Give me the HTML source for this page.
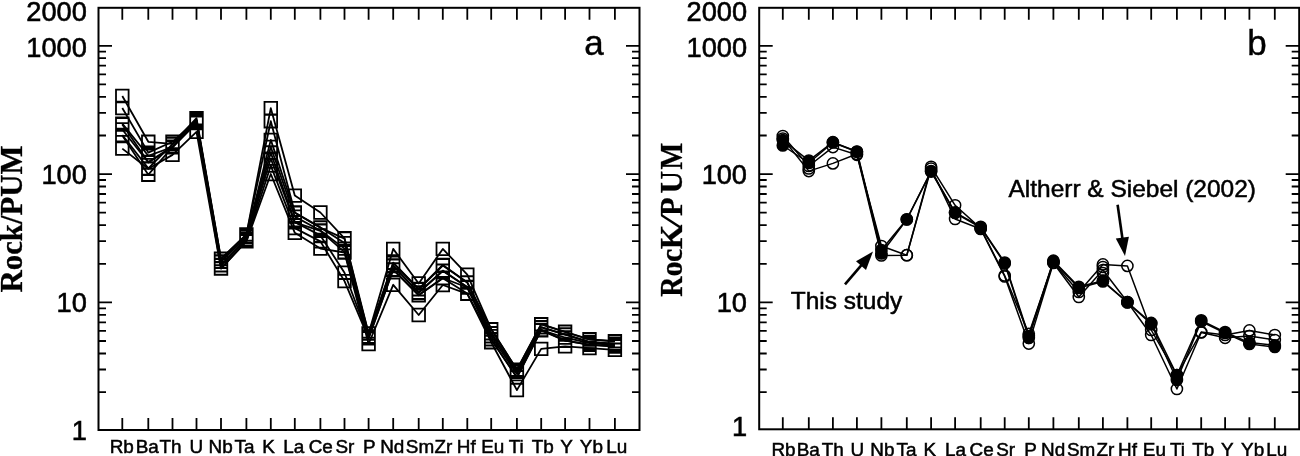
<!DOCTYPE html>
<html><head><meta charset="utf-8"><title>Rock/PUM spider diagrams</title>
<style>
html,body{margin:0;padding:0;background:#fff;}
body{width:1300px;height:456px;overflow:hidden;}
svg{display:block;}
text{fill:#000;}
.yl{font-family:"Liberation Sans",Arial,sans-serif;font-size:27.2px;stroke:#000;stroke-width:0.6px;}
.xl{font-family:"Liberation Sans",Arial,sans-serif;font-size:18.9px;stroke:#000;stroke-width:0.5px;}
.pl{font-family:"Liberation Sans",Arial,sans-serif;font-size:35px;stroke:#000;stroke-width:0.4px;}
.an{font-family:"Liberation Sans",Arial,sans-serif;font-size:23.2px;stroke:#000;stroke-width:0.5px;}
.yt{font-family:"Liberation Serif","Times New Roman",serif;font-weight:bold;font-size:30.8px;stroke:#000;stroke-width:0.3px;}
.yt2{font-family:"Liberation Serif","Times New Roman",serif;font-weight:bold;font-size:31.8px;stroke:#000;stroke-width:0.3px;}
</style></head><body>
<svg width="1300" height="456" viewBox="0 0 1300 456">
<rect width="1300" height="456" fill="#fff"/>
<g id="pa">
<rect x="98.5" y="7.8" width="541.0" height="422.2" fill="none" stroke="#000" stroke-width="2"/>
<path d="M122.3 7.8v12M122.3 430v-12M148.3 7.8v12M148.3 430v-12M172.5 7.8v12M172.5 430v-12M196.5 7.8v12M196.5 430v-12M221.0 7.8v12M221.0 430v-12M246.4 7.8v12M246.4 430v-12M270.8 7.8v12M270.8 430v-12M294.8 7.8v12M294.8 430v-12M320.4 7.8v12M320.4 430v-12M344.5 7.8v12M344.5 430v-12M368.6 7.8v12M368.6 430v-12M393.2 7.8v12M393.2 430v-12M418.7 7.8v12M418.7 430v-12M442.8 7.8v12M442.8 430v-12M467.3 7.8v12M467.3 430v-12M491.2 7.8v12M491.2 430v-12M516.9 7.8v12M516.9 430v-12M541.2 7.8v12M541.2 430v-12M565.1 7.8v12M565.1 430v-12M589.5 7.8v12M589.5 430v-12M614.9 7.8v12M614.9 430v-12M98.5 392.1h7.5M639.5 392.1h-7.5M98.5 369.5h7.5M639.5 369.5h-7.5M98.5 353.5h7.5M639.5 353.5h-7.5M98.5 341.0h7.5M639.5 341.0h-7.5M98.5 330.9h7.5M639.5 330.9h-7.5M98.5 322.3h7.5M639.5 322.3h-7.5M98.5 314.8h7.5M639.5 314.8h-7.5M98.5 308.3h7.5M639.5 308.3h-7.5M98.5 302.4h13.5M639.5 302.4h-13.5M98.5 263.8h7.5M639.5 263.8h-7.5M98.5 241.2h7.5M639.5 241.2h-7.5M98.5 225.2h7.5M639.5 225.2h-7.5M98.5 212.7h7.5M639.5 212.7h-7.5M98.5 202.6h7.5M639.5 202.6h-7.5M98.5 194.0h7.5M639.5 194.0h-7.5M98.5 186.5h7.5M639.5 186.5h-7.5M98.5 180.0h7.5M639.5 180.0h-7.5M98.5 174.1h13.5M639.5 174.1h-13.5M98.5 135.5h7.5M639.5 135.5h-7.5M98.5 112.9h7.5M639.5 112.9h-7.5M98.5 96.9h7.5M639.5 96.9h-7.5M98.5 84.4h7.5M639.5 84.4h-7.5M98.5 74.3h7.5M639.5 74.3h-7.5M98.5 65.7h7.5M639.5 65.7h-7.5M98.5 58.2h7.5M639.5 58.2h-7.5M98.5 51.7h7.5M639.5 51.7h-7.5M98.5 45.8h13.5M639.5 45.8h-13.5" stroke="#000" stroke-width="1.8" fill="none"/>
</g>
<g id="pb">
<rect x="759.2" y="7.8" width="540.0" height="421.5" fill="none" stroke="#000" stroke-width="2"/>
<path d="M782.8 7.8v12M782.8 429.3v-12M808.8 7.8v12M808.8 429.3v-12M832.9 7.8v12M832.9 429.3v-12M856.9 7.8v12M856.9 429.3v-12M881.4 7.8v12M881.4 429.3v-12M906.8 7.8v12M906.8 429.3v-12M931.1 7.8v12M931.1 429.3v-12M955.1 7.8v12M955.1 429.3v-12M980.7 7.8v12M980.7 429.3v-12M1004.7 7.8v12M1004.7 429.3v-12M1028.8 7.8v12M1028.8 429.3v-12M1053.4 7.8v12M1053.4 429.3v-12M1078.8 7.8v12M1078.8 429.3v-12M1102.9 7.8v12M1102.9 429.3v-12M1127.4 7.8v12M1127.4 429.3v-12M1151.2 7.8v12M1151.2 429.3v-12M1176.9 7.8v12M1176.9 429.3v-12M1201.2 7.8v12M1201.2 429.3v-12M1225.1 7.8v12M1225.1 429.3v-12M1249.4 7.8v12M1249.4 429.3v-12M1274.8 7.8v12M1274.8 429.3v-12M759.2 392.1h7.5M1299.2 392.1h-7.5M759.2 369.5h7.5M1299.2 369.5h-7.5M759.2 353.5h7.5M1299.2 353.5h-7.5M759.2 341.0h7.5M1299.2 341.0h-7.5M759.2 330.9h7.5M1299.2 330.9h-7.5M759.2 322.3h7.5M1299.2 322.3h-7.5M759.2 314.8h7.5M1299.2 314.8h-7.5M759.2 308.3h7.5M1299.2 308.3h-7.5M759.2 302.4h13.5M1299.2 302.4h-13.5M759.2 263.8h7.5M1299.2 263.8h-7.5M759.2 241.2h7.5M1299.2 241.2h-7.5M759.2 225.2h7.5M1299.2 225.2h-7.5M759.2 212.7h7.5M1299.2 212.7h-7.5M759.2 202.6h7.5M1299.2 202.6h-7.5M759.2 194.0h7.5M1299.2 194.0h-7.5M759.2 186.5h7.5M1299.2 186.5h-7.5M759.2 180.0h7.5M1299.2 180.0h-7.5M759.2 174.1h13.5M1299.2 174.1h-13.5M759.2 135.5h7.5M1299.2 135.5h-7.5M759.2 112.9h7.5M1299.2 112.9h-7.5M759.2 96.9h7.5M1299.2 96.9h-7.5M759.2 84.4h7.5M1299.2 84.4h-7.5M759.2 74.3h7.5M1299.2 74.3h-7.5M759.2 65.7h7.5M1299.2 65.7h-7.5M759.2 58.2h7.5M1299.2 58.2h-7.5M759.2 51.7h7.5M1299.2 51.7h-7.5M759.2 45.8h13.5M1299.2 45.8h-13.5" stroke="#000" stroke-width="1.8" fill="none"/>
</g>
<text x="86.8" y="20.8" text-anchor="end" class="yl">2000</text>
<text x="86.8" y="56.7" text-anchor="end" class="yl">1000</text>
<text x="86.8" y="183.7" text-anchor="end" class="yl">100</text>
<text x="86.8" y="311.9" text-anchor="end" class="yl">10</text>
<text x="86.8" y="440.2" text-anchor="end" class="yl">1</text>
<text x="747" y="20.5" text-anchor="end" class="yl">2000</text>
<text x="747" y="56.7" text-anchor="end" class="yl">1000</text>
<text x="747" y="183.7" text-anchor="end" class="yl">100</text>
<text x="747" y="311.9" text-anchor="end" class="yl">10</text>
<text x="747" y="436" text-anchor="end" class="yl">1</text>
<text x="121.8" y="452.6" text-anchor="middle" class="xl">Rb</text>
<text x="147.2" y="452.6" text-anchor="middle" class="xl">Ba</text>
<text x="170.6" y="452.6" text-anchor="middle" class="xl">Th</text>
<text x="196.3" y="452.6" text-anchor="middle" class="xl">U</text>
<text x="220.6" y="452.6" text-anchor="middle" class="xl">Nb</text>
<text x="244.6" y="452.6" text-anchor="middle" class="xl">Ta</text>
<text x="268.6" y="452.6" text-anchor="middle" class="xl">K</text>
<text x="293.7" y="452.6" text-anchor="middle" class="xl">La</text>
<text x="320.8" y="452.6" text-anchor="middle" class="xl">Ce</text>
<text x="344.9" y="452.6" text-anchor="middle" class="xl">Sr</text>
<text x="369.4" y="452.6" text-anchor="middle" class="xl">P</text>
<text x="392.3" y="452.6" text-anchor="middle" class="xl">Nd</text>
<text x="420.0" y="452.6" text-anchor="middle" class="xl">Sm</text>
<text x="443.4" y="452.6" text-anchor="middle" class="xl">Zr</text>
<text x="466.3" y="452.6" text-anchor="middle" class="xl">Hf</text>
<text x="492.7" y="452.6" text-anchor="middle" class="xl">Eu</text>
<text x="516.2" y="452.6" text-anchor="middle" class="xl">Ti</text>
<text x="542.7" y="452.6" text-anchor="middle" class="xl">Tb</text>
<text x="566.5" y="452.6" text-anchor="middle" class="xl">Y</text>
<text x="591.4" y="452.6" text-anchor="middle" class="xl">Yb</text>
<text x="616.7" y="452.6" text-anchor="middle" class="xl">Lu</text>
<text x="783.5" y="456" text-anchor="middle" class="xl">Rb</text>
<text x="808.2" y="456" text-anchor="middle" class="xl">Ba</text>
<text x="832.8" y="456" text-anchor="middle" class="xl">Th</text>
<text x="857.3" y="456" text-anchor="middle" class="xl">U</text>
<text x="882.4" y="456" text-anchor="middle" class="xl">Nb</text>
<text x="906.5" y="456" text-anchor="middle" class="xl">Ta</text>
<text x="929.7" y="456" text-anchor="middle" class="xl">K</text>
<text x="955.4" y="456" text-anchor="middle" class="xl">La</text>
<text x="981.7" y="456" text-anchor="middle" class="xl">Ce</text>
<text x="1005.6" y="456" text-anchor="middle" class="xl">Sr</text>
<text x="1030.6" y="456" text-anchor="middle" class="xl">P</text>
<text x="1053.1" y="456" text-anchor="middle" class="xl">Nd</text>
<text x="1081.1" y="456" text-anchor="middle" class="xl">Sm</text>
<text x="1105.5" y="456" text-anchor="middle" class="xl">Zr</text>
<text x="1127.5" y="456" text-anchor="middle" class="xl">Hf</text>
<text x="1154.4" y="456" text-anchor="middle" class="xl">Eu</text>
<text x="1177.5" y="456" text-anchor="middle" class="xl">Ti</text>
<text x="1203.2" y="456" text-anchor="middle" class="xl">Tb</text>
<text x="1227.3" y="456" text-anchor="middle" class="xl">Y</text>
<text x="1252.6" y="456" text-anchor="middle" class="xl">Yb</text>
<text x="1276.7" y="456" text-anchor="middle" class="xl">Lu</text>
<text x="594" y="55.3" text-anchor="middle" class="pl">a</text>
<text x="1257" y="55.3" text-anchor="middle" class="pl">b</text>
<text transform="translate(21.8,292.5) rotate(-90)" class="yt">Rock/PUM</text>
<text transform="translate(682.3,296.3) rotate(-90)" class="yt2"><tspan x="-0.48" textLength="20.2" lengthAdjust="spacingAndGlyphs">R</tspan><tspan x="19.84" textLength="15.2" lengthAdjust="spacingAndGlyphs">o</tspan><tspan x="34.28" textLength="13.27" lengthAdjust="spacingAndGlyphs">c</tspan><tspan x="47.0" textLength="24.5" lengthAdjust="spacingAndGlyphs">K</tspan><tspan x="66.4" textLength="16.5" lengthAdjust="spacingAndGlyphs" font-weight="normal" stroke="none">/</tspan><tspan x="80.38" textLength="18.6" lengthAdjust="spacingAndGlyphs">P</tspan><tspan x="102.92" textLength="22.55" lengthAdjust="spacingAndGlyphs">U</tspan><tspan x="126.8" textLength="26.8" lengthAdjust="spacingAndGlyphs">M</tspan></text>
<g fill="none" stroke="#000" stroke-width="1.8">
<polyline points="122.3,96.0 148.3,141.8 172.5,143.9 196.5,118.2 221.0,258.8 246.4,234.4 270.8,108.2 294.8,195.6 320.4,212.5 344.5,238.3 368.6,333.4 393.2,248.9 418.7,283.5 442.8,248.9 467.3,274.7 491.2,329.1 516.9,369.6 541.2,324.2 565.1,331.8 589.5,339.3 614.9,341.1" stroke-linejoin="round"/>
<polyline points="122.3,108.0 148.3,152.6 172.5,141.8 196.5,120.0 221.0,259.0 246.4,234.6 270.8,121.2 294.8,212.5 320.4,227.4 344.5,243.1 368.6,333.6 393.2,262.7 418.7,289.0 442.8,265.0 467.3,282.4 491.2,329.4 516.9,369.8 541.2,324.4 565.1,332.0 589.5,339.5 614.9,341.3" stroke-linejoin="round"/>
<polyline points="122.3,123.6 148.3,155.8 172.5,147.0 196.5,120.3 221.0,261.5 246.4,236.5 270.8,139.9 294.8,212.8 320.4,227.7 344.5,238.6 368.6,336.5 393.2,263.0 418.7,289.3 442.8,265.5 467.3,282.6 491.2,333.2 516.9,371.6 541.2,327.2 565.1,334.4 589.5,341.9 614.9,343.7" stroke-linejoin="round"/>
<polyline points="122.3,124.5 148.3,162.0 172.5,146.6 196.5,122.6 221.0,261.8 246.4,236.8 270.8,147.0 294.8,216.6 320.4,230.5 344.5,248.6 368.6,336.7 393.2,265.5 418.7,292.5 442.8,270.6 467.3,287.2 491.2,333.4 516.9,371.8 541.2,327.4 565.1,334.6 589.5,342.1 614.9,343.9" stroke-linejoin="round"/>
<polyline points="122.3,129.5 148.3,162.5 172.5,147.4 196.5,122.3 221.0,265.0 246.4,239.0 270.8,152.7 294.8,222.1 320.4,235.4 344.5,272.7 368.6,337.0 393.2,266.0 418.7,292.8 442.8,271.0 467.3,287.0 491.2,336.2 516.9,374.0 541.2,330.1 565.1,337.5 589.5,343.2 614.9,345.0" stroke-linejoin="round"/>
<polyline points="122.3,135.0 148.3,168.4 172.5,144.2 196.5,121.0 221.0,265.3 246.4,239.3 270.8,158.6 294.8,222.4 320.4,230.8 344.5,252.2 368.6,338.2 393.2,269.5 418.7,295.0 442.8,278.0 467.3,287.5 491.2,339.2 516.9,377.5 541.2,329.9 565.1,340.5 589.5,344.6 614.9,346.3" stroke-linejoin="round"/>
<polyline points="122.3,135.5 148.3,174.7 172.5,147.2 196.5,123.0 221.0,268.3 246.4,241.2 270.8,165.6 294.8,228.1 320.4,241.4 344.5,281.1 368.6,338.4 393.2,269.7 418.7,295.3 442.8,278.3 467.3,293.5 491.2,339.4 516.9,377.3 541.2,330.3 565.1,340.7 589.5,344.8 614.9,346.5" stroke-linejoin="round"/>
<polyline points="122.3,148.6 148.3,168.8 172.5,154.9 196.5,131.9 221.0,268.6 246.4,241.4 270.8,174.0 294.8,232.8 320.4,248.6 344.5,252.5 368.6,344.0 393.2,284.8 418.7,315.0 442.8,285.0 467.3,293.8 491.2,342.2 516.9,390.1 541.2,348.9 565.1,346.3 589.5,348.1 614.9,349.8" stroke-linejoin="round"/>
<path d="M116.0 89.7h12.6v12.6h-12.6zM142.0 135.5h12.6v12.6h-12.6zM166.2 137.6h12.6v12.6h-12.6zM190.2 111.9h12.6v12.6h-12.6zM214.7 252.5h12.6v12.6h-12.6zM240.1 228.1h12.6v12.6h-12.6zM264.5 101.9h12.6v12.6h-12.6zM288.5 189.3h12.6v12.6h-12.6zM314.1 206.2h12.6v12.6h-12.6zM338.2 232.0h12.6v12.6h-12.6zM362.3 327.1h12.6v12.6h-12.6zM386.9 242.6h12.6v12.6h-12.6zM412.4 277.2h12.6v12.6h-12.6zM436.5 242.6h12.6v12.6h-12.6zM461.0 268.4h12.6v12.6h-12.6zM484.9 322.8h12.6v12.6h-12.6zM510.6 363.3h12.6v12.6h-12.6zM534.9 317.9h12.6v12.6h-12.6zM558.8 325.5h12.6v12.6h-12.6zM583.2 333.0h12.6v12.6h-12.6zM608.6 334.8h12.6v12.6h-12.6zM116.0 101.7h12.6v12.6h-12.6zM142.0 146.3h12.6v12.6h-12.6zM166.2 135.5h12.6v12.6h-12.6zM190.2 113.7h12.6v12.6h-12.6zM214.7 252.7h12.6v12.6h-12.6zM240.1 228.3h12.6v12.6h-12.6zM264.5 114.9h12.6v12.6h-12.6zM288.5 206.2h12.6v12.6h-12.6zM314.1 221.1h12.6v12.6h-12.6zM338.2 236.8h12.6v12.6h-12.6zM362.3 327.3h12.6v12.6h-12.6zM386.9 256.4h12.6v12.6h-12.6zM412.4 282.7h12.6v12.6h-12.6zM436.5 258.7h12.6v12.6h-12.6zM461.0 276.1h12.6v12.6h-12.6zM484.9 323.1h12.6v12.6h-12.6zM510.6 363.5h12.6v12.6h-12.6zM534.9 318.1h12.6v12.6h-12.6zM558.8 325.7h12.6v12.6h-12.6zM583.2 333.2h12.6v12.6h-12.6zM608.6 335.0h12.6v12.6h-12.6zM116.0 117.3h12.6v12.6h-12.6zM142.0 149.5h12.6v12.6h-12.6zM166.2 140.7h12.6v12.6h-12.6zM190.2 114.0h12.6v12.6h-12.6zM214.7 255.2h12.6v12.6h-12.6zM240.1 230.2h12.6v12.6h-12.6zM264.5 133.6h12.6v12.6h-12.6zM288.5 206.5h12.6v12.6h-12.6zM314.1 221.4h12.6v12.6h-12.6zM338.2 232.3h12.6v12.6h-12.6zM362.3 330.2h12.6v12.6h-12.6zM386.9 256.7h12.6v12.6h-12.6zM412.4 283.0h12.6v12.6h-12.6zM436.5 259.2h12.6v12.6h-12.6zM461.0 276.3h12.6v12.6h-12.6zM484.9 326.9h12.6v12.6h-12.6zM510.6 365.3h12.6v12.6h-12.6zM534.9 320.9h12.6v12.6h-12.6zM558.8 328.1h12.6v12.6h-12.6zM583.2 335.6h12.6v12.6h-12.6zM608.6 337.4h12.6v12.6h-12.6zM116.0 118.2h12.6v12.6h-12.6zM142.0 155.7h12.6v12.6h-12.6zM166.2 140.3h12.6v12.6h-12.6zM190.2 116.3h12.6v12.6h-12.6zM214.7 255.5h12.6v12.6h-12.6zM240.1 230.5h12.6v12.6h-12.6zM264.5 140.7h12.6v12.6h-12.6zM288.5 210.3h12.6v12.6h-12.6zM314.1 224.2h12.6v12.6h-12.6zM338.2 242.3h12.6v12.6h-12.6zM362.3 330.4h12.6v12.6h-12.6zM386.9 259.2h12.6v12.6h-12.6zM412.4 286.2h12.6v12.6h-12.6zM436.5 264.3h12.6v12.6h-12.6zM461.0 280.9h12.6v12.6h-12.6zM484.9 327.1h12.6v12.6h-12.6zM510.6 365.5h12.6v12.6h-12.6zM534.9 321.1h12.6v12.6h-12.6zM558.8 328.3h12.6v12.6h-12.6zM583.2 335.8h12.6v12.6h-12.6zM608.6 337.6h12.6v12.6h-12.6zM116.0 123.2h12.6v12.6h-12.6zM142.0 156.2h12.6v12.6h-12.6zM166.2 141.1h12.6v12.6h-12.6zM190.2 116.0h12.6v12.6h-12.6zM214.7 258.7h12.6v12.6h-12.6zM240.1 232.7h12.6v12.6h-12.6zM264.5 146.4h12.6v12.6h-12.6zM288.5 215.8h12.6v12.6h-12.6zM314.1 229.1h12.6v12.6h-12.6zM338.2 266.4h12.6v12.6h-12.6zM362.3 330.7h12.6v12.6h-12.6zM386.9 259.7h12.6v12.6h-12.6zM412.4 286.5h12.6v12.6h-12.6zM436.5 264.7h12.6v12.6h-12.6zM461.0 280.7h12.6v12.6h-12.6zM484.9 329.9h12.6v12.6h-12.6zM510.6 367.7h12.6v12.6h-12.6zM534.9 323.8h12.6v12.6h-12.6zM558.8 331.2h12.6v12.6h-12.6zM583.2 336.9h12.6v12.6h-12.6zM608.6 338.7h12.6v12.6h-12.6zM116.0 128.7h12.6v12.6h-12.6zM142.0 162.1h12.6v12.6h-12.6zM166.2 137.9h12.6v12.6h-12.6zM190.2 114.7h12.6v12.6h-12.6zM214.7 259.0h12.6v12.6h-12.6zM240.1 233.0h12.6v12.6h-12.6zM264.5 152.3h12.6v12.6h-12.6zM288.5 216.1h12.6v12.6h-12.6zM314.1 224.5h12.6v12.6h-12.6zM338.2 245.9h12.6v12.6h-12.6zM362.3 331.9h12.6v12.6h-12.6zM386.9 263.2h12.6v12.6h-12.6zM412.4 288.7h12.6v12.6h-12.6zM436.5 271.7h12.6v12.6h-12.6zM461.0 281.2h12.6v12.6h-12.6zM484.9 332.9h12.6v12.6h-12.6zM510.6 371.2h12.6v12.6h-12.6zM534.9 323.6h12.6v12.6h-12.6zM558.8 334.2h12.6v12.6h-12.6zM583.2 338.3h12.6v12.6h-12.6zM608.6 340.0h12.6v12.6h-12.6zM116.0 129.2h12.6v12.6h-12.6zM142.0 168.4h12.6v12.6h-12.6zM166.2 140.9h12.6v12.6h-12.6zM190.2 116.7h12.6v12.6h-12.6zM214.7 262.0h12.6v12.6h-12.6zM240.1 234.9h12.6v12.6h-12.6zM264.5 159.3h12.6v12.6h-12.6zM288.5 221.8h12.6v12.6h-12.6zM314.1 235.1h12.6v12.6h-12.6zM338.2 274.8h12.6v12.6h-12.6zM362.3 332.1h12.6v12.6h-12.6zM386.9 263.4h12.6v12.6h-12.6zM412.4 289.0h12.6v12.6h-12.6zM436.5 272.0h12.6v12.6h-12.6zM461.0 287.2h12.6v12.6h-12.6zM484.9 333.1h12.6v12.6h-12.6zM510.6 371.0h12.6v12.6h-12.6zM534.9 324.0h12.6v12.6h-12.6zM558.8 334.4h12.6v12.6h-12.6zM583.2 338.5h12.6v12.6h-12.6zM608.6 340.2h12.6v12.6h-12.6zM116.0 142.3h12.6v12.6h-12.6zM142.0 162.5h12.6v12.6h-12.6zM166.2 148.6h12.6v12.6h-12.6zM190.2 125.6h12.6v12.6h-12.6zM214.7 262.3h12.6v12.6h-12.6zM240.1 235.1h12.6v12.6h-12.6zM264.5 167.7h12.6v12.6h-12.6zM288.5 226.5h12.6v12.6h-12.6zM314.1 242.3h12.6v12.6h-12.6zM338.2 246.2h12.6v12.6h-12.6zM362.3 337.7h12.6v12.6h-12.6zM386.9 278.5h12.6v12.6h-12.6zM412.4 308.7h12.6v12.6h-12.6zM436.5 278.7h12.6v12.6h-12.6zM461.0 287.5h12.6v12.6h-12.6zM484.9 335.9h12.6v12.6h-12.6zM510.6 383.8h12.6v12.6h-12.6zM534.9 342.6h12.6v12.6h-12.6zM558.8 340.0h12.6v12.6h-12.6zM583.2 341.8h12.6v12.6h-12.6zM608.6 343.5h12.6v12.6h-12.6z"/>
</g>
<g fill="none" stroke="#000" stroke-width="1.5">
<polyline points="782.8,136.0 808.8,166.0 832.9,147.1 856.9,154.8 881.4,246.0 906.8,255.2 931.1,166.8 955.1,205.3 980.7,228.4 1004.7,275.5 1028.8,333.8 1053.4,262.5 1078.8,292.0 1102.9,264.4 1127.4,265.9 1151.2,330.0 1176.9,375.0 1201.2,332.1 1225.1,335.0 1249.4,330.4 1274.8,335.0" stroke-linejoin="round"/>
<polyline points="782.8,138.5 808.8,171.1 832.9,163.4 856.9,154.0 881.4,255.5 906.8,255.2 931.1,168.5 955.1,219.0 980.7,229.0 1004.7,276.5 1028.8,343.6 1053.4,263.0 1078.8,297.0 1102.9,270.0 1127.4,302.0 1151.2,335.0 1176.9,389.0 1201.2,332.5 1225.1,337.8 1249.4,336.0 1274.8,340.0" stroke-linejoin="round"/>
<polyline points="782.8,140.0 808.8,160.6 832.9,142.2 856.9,151.5 881.4,250.0 906.8,219.3 931.1,171.0 955.1,212.4 980.7,226.8 1004.7,262.5 1028.8,336.0 1053.4,260.7 1078.8,286.8 1102.9,280.7 1127.4,302.2 1151.2,322.9 1176.9,375.0 1201.2,320.3 1225.1,332.1 1249.4,342.6 1274.8,345.3" stroke-linejoin="round"/>
<polyline points="782.8,145.5 808.8,163.0 832.9,142.5 856.9,151.8 881.4,253.5 906.8,219.5 931.1,171.6 955.1,213.0 980.7,227.5 1004.7,263.5 1028.8,338.0 1053.4,261.5 1078.8,288.0 1102.9,281.5 1127.4,302.5 1151.2,324.0 1176.9,380.0 1201.2,321.5 1225.1,333.0 1249.4,344.0 1274.8,347.0" stroke-linejoin="round"/>
<circle cx="782.8" cy="136.0" r="5.6"/>
<circle cx="808.8" cy="166.0" r="5.6"/>
<circle cx="832.9" cy="147.1" r="5.6"/>
<circle cx="856.9" cy="154.8" r="5.6"/>
<circle cx="881.4" cy="246.0" r="5.6"/>
<circle cx="906.8" cy="255.2" r="5.6"/>
<circle cx="931.1" cy="166.8" r="5.6"/>
<circle cx="955.1" cy="205.3" r="5.6"/>
<circle cx="980.7" cy="228.4" r="5.6"/>
<circle cx="1004.7" cy="275.5" r="5.6"/>
<circle cx="1028.8" cy="333.8" r="5.6"/>
<circle cx="1053.4" cy="262.5" r="5.6"/>
<circle cx="1078.8" cy="292.0" r="5.6"/>
<circle cx="1102.9" cy="264.4" r="5.6"/>
<circle cx="1127.4" cy="265.9" r="5.6"/>
<circle cx="1151.2" cy="330.0" r="5.6"/>
<circle cx="1176.9" cy="375.0" r="5.6"/>
<circle cx="1201.2" cy="332.1" r="5.6"/>
<circle cx="1225.1" cy="335.0" r="5.6"/>
<circle cx="1249.4" cy="330.4" r="5.6"/>
<circle cx="1274.8" cy="335.0" r="5.6"/>
<circle cx="782.8" cy="138.5" r="5.6"/>
<circle cx="808.8" cy="171.1" r="5.6"/>
<circle cx="832.9" cy="163.4" r="5.6"/>
<circle cx="856.9" cy="154.0" r="5.6"/>
<circle cx="881.4" cy="255.5" r="5.6"/>
<circle cx="906.8" cy="255.2" r="5.6"/>
<circle cx="931.1" cy="168.5" r="5.6"/>
<circle cx="955.1" cy="219.0" r="5.6"/>
<circle cx="980.7" cy="229.0" r="5.6"/>
<circle cx="1004.7" cy="276.5" r="5.6"/>
<circle cx="1028.8" cy="343.6" r="5.6"/>
<circle cx="1053.4" cy="263.0" r="5.6"/>
<circle cx="1078.8" cy="297.0" r="5.6"/>
<circle cx="1102.9" cy="270.0" r="5.6"/>
<circle cx="1127.4" cy="302.0" r="5.6"/>
<circle cx="1151.2" cy="335.0" r="5.6"/>
<circle cx="1176.9" cy="389.0" r="5.6"/>
<circle cx="1201.2" cy="332.5" r="5.6"/>
<circle cx="1225.1" cy="337.8" r="5.6"/>
<circle cx="1249.4" cy="336.0" r="5.6"/>
<circle cx="1274.8" cy="340.0" r="5.6"/>
<circle cx="1102.9" cy="267" r="5.6"/>
<circle cx="1102.9" cy="273" r="5.6"/>
<circle cx="808.8" cy="168.5" r="5.6"/>
</g><g fill="#000" stroke="#000" stroke-width="1.5">
<circle cx="782.8" cy="140.0" r="5.6"/>
<circle cx="808.8" cy="160.6" r="5.6"/>
<circle cx="832.9" cy="142.2" r="5.6"/>
<circle cx="856.9" cy="151.5" r="5.6"/>
<circle cx="881.4" cy="250.0" r="5.6"/>
<circle cx="906.8" cy="219.3" r="5.6"/>
<circle cx="931.1" cy="171.0" r="5.6"/>
<circle cx="955.1" cy="212.4" r="5.6"/>
<circle cx="980.7" cy="226.8" r="5.6"/>
<circle cx="1004.7" cy="262.5" r="5.6"/>
<circle cx="1028.8" cy="336.0" r="5.6"/>
<circle cx="1053.4" cy="260.7" r="5.6"/>
<circle cx="1078.8" cy="286.8" r="5.6"/>
<circle cx="1102.9" cy="280.7" r="5.6"/>
<circle cx="1127.4" cy="302.2" r="5.6"/>
<circle cx="1151.2" cy="322.9" r="5.6"/>
<circle cx="1176.9" cy="375.0" r="5.6"/>
<circle cx="1201.2" cy="320.3" r="5.6"/>
<circle cx="1225.1" cy="332.1" r="5.6"/>
<circle cx="1249.4" cy="342.6" r="5.6"/>
<circle cx="1274.8" cy="345.3" r="5.6"/>
<circle cx="782.8" cy="145.5" r="5.6"/>
<circle cx="808.8" cy="163.0" r="5.6"/>
<circle cx="832.9" cy="142.5" r="5.6"/>
<circle cx="856.9" cy="151.8" r="5.6"/>
<circle cx="881.4" cy="253.5" r="5.6"/>
<circle cx="906.8" cy="219.5" r="5.6"/>
<circle cx="931.1" cy="171.6" r="5.6"/>
<circle cx="955.1" cy="213.0" r="5.6"/>
<circle cx="980.7" cy="227.5" r="5.6"/>
<circle cx="1004.7" cy="263.5" r="5.6"/>
<circle cx="1028.8" cy="338.0" r="5.6"/>
<circle cx="1053.4" cy="261.5" r="5.6"/>
<circle cx="1078.8" cy="288.0" r="5.6"/>
<circle cx="1102.9" cy="281.5" r="5.6"/>
<circle cx="1127.4" cy="302.5" r="5.6"/>
<circle cx="1151.2" cy="324.0" r="5.6"/>
<circle cx="1176.9" cy="380.0" r="5.6"/>
<circle cx="1201.2" cy="321.5" r="5.6"/>
<circle cx="1225.1" cy="333.0" r="5.6"/>
<circle cx="1249.4" cy="344.0" r="5.6"/>
<circle cx="1274.8" cy="347.0" r="5.6"/>
</g>
<text transform="translate(1008.5,197) scale(1.055,1)" class="an">Altherr &amp; Siebel (2002)</text>
<text transform="translate(790.8,309) scale(1.055,1)" class="an">This study</text>
<path d="M1117.6 204.7L1122.6 239.7" stroke="#000" stroke-width="2.6"/>
<path d="M1125.0 256.0L1115.8 238.6L1128.9 236.7z" fill="#000"/>
<path d="M845.0 284.4L862.3 264.1" stroke="#000" stroke-width="2.6"/>
<path d="M873.0 251.5L866.0 269.9L856.0 261.3z" fill="#000"/>
</svg>
</body></html>
